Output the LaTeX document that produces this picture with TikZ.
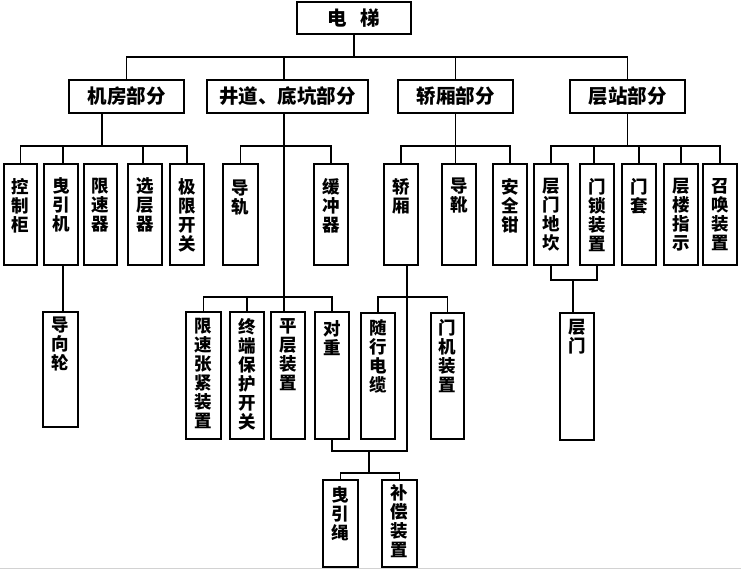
\documentclass[tikz,border=0pt]{standalone}
\usepackage{fontspec}
\setmainfont{Noto Sans CJK SC}
\tikzset{
 bx/.style={draw, line width=2.2pt, inner sep=0pt, fill=white},
 vlab/.style={anchor=north, align=center, inner sep=0pt, font=\bfseries\fontsize{17.5}{19}\selectfont},
 hlab/.style={font=\bfseries\fontsize{19.5}{22}\selectfont},
 conn/.style={line width=1.2pt},
}
\newcommand\mybox[7]{\node[bx, minimum width={(#4-#2)*1pt}, minimum height={(#5-#3)*1pt}, label={[vlab,yshift={-#6pt}]north:{#7}}] (#1) at ({(#2+#4)/2},{(#3+#5)/2}) {};}
\newcommand\myhbox[6]{\node[bx, hlab, minimum width={(#4-#2)*1pt}, minimum height={(#5-#3)*1pt}] (#1) at ({(#2+#4)/2},{(#3+#5)/2}) {#6};}
\begin{document}
\begin{tikzpicture}[x=1pt,y=-1pt]
\useasboundingbox (0,0) rectangle (741,576);
\draw[gray!35, line width=1pt] (0,568) -- (741,568);
% level 1 and 2
\myhbox{root}{297}{2}{411}{34}{电\hspace{14pt}梯}
\myhbox{jf}{69}{80}{184}{113}{机房部分}
\myhbox{jd}{207}{80}{368}{113}{井道、底坑部分}
\myhbox{jx}{398}{80}{513}{113}{轿厢部分}
\myhbox{cz}{570}{80}{685}{113}{层站部分}
% level 3
\mybox{kzg}{4}{164}{37}{265}{15}{控\\制\\柜}
\mybox{yyj}{44}{164}{78}{265}{15}{曳\\引\\机}
\mybox{xsq}{84}{164}{117}{265}{15}{限\\速\\器}
\mybox{xcq}{128}{164}{162}{265}{15}{选\\层\\器}
\mybox{jxkg}{170}{164}{204}{265}{15}{极\\限\\开\\关}
\mybox{dg}{223}{164}{258}{265}{17}{导\\轨}
\mybox{hcq}{314}{164}{348}{265}{15}{缓\\冲\\器}
\mybox{jx2}{384}{164}{418}{265}{15}{轿\\厢}
\mybox{dx}{442}{164}{476}{265}{15}{导\\靴}
\mybox{aqq}{493}{164}{527}{265}{15}{安\\全\\钳}
\mybox{cmdk}{534}{164}{568}{265}{15}{层\\门\\地\\坎}
\mybox{msz}{580}{164}{614}{265}{15}{门\\锁\\装\\置}
\mybox{mt}{622}{164}{656}{265}{15}{门\\套}
\mybox{clzs}{664}{164}{698}{265}{15}{层\\楼\\指\\示}
\mybox{zhzz}{703}{164}{737}{265}{15}{召\\唤\\装\\置}
% level 4
\mybox{dxl}{43}{312}{78}{427}{6}{导\\向\\轮}
\mybox{xsz}{186}{312}{221}{439}{7}{限\\速\\张\\紧\\装\\置}
\mybox{zdb}{230}{312}{264}{439}{7}{终\\端\\保\\护\\开\\关}
\mybox{pc}{271}{312}{305}{439}{7}{平\\层\\装\\置}
\mybox{dz}{315}{312}{349}{439}{9}{对\\重}
\mybox{sx}{361}{313}{395}{439}{7}{随\\行\\电\\缆}
\mybox{mj}{431}{313}{464}{439}{7}{门\\机\\装\\置}
\mybox{cm}{560}{313}{594}{440}{7}{层\\门}
% level 5
\mybox{yys}{323}{480}{358}{567}{7}{曳\\引\\绳}
\mybox{bc}{382}{480}{417}{567}{5}{补\\偿\\装\\置}
% bus levels
\coordinate (yb0) at (0,57);
\coordinate (yb1) at (0,146);
\coordinate (yb2) at (0,297);
\coordinate (yb3) at (0,451);
\coordinate (yb4) at (0,473);
\coordinate (yb5) at (0,280);
\coordinate (j3) at (369,451);
% top
\draw[conn] (root.south) -- (root.south|-yb0);
\draw[conn] (jf.north) |- (cz.north|-yb0) -- (cz.north);
\draw[conn] ([xshift=-3.5pt]jd.north) -- ([xshift=-3.5pt]jd.north|-yb0);
\draw[conn] (jx.north) -- (jx.north|-yb0);
% jifang
\draw[conn] ([xshift=-24.5pt]jf.south) -- ([xshift=-24.5pt]jf.south|-yb1);
\draw[conn] (kzg.north) |- (jxkg.north|-yb1) -- (jxkg.north);
\draw[conn] ([xshift=2pt]yyj.north) -- ([xshift=2pt]yyj.north|-yb1);
\draw[conn] ([xshift=-2pt]xcq.north) -- ([xshift=-2pt]xcq.north|-yb1);
\draw[conn] ([xshift=2pt]yyj.south) -- ([xshift=2pt]yyj.south|-dxl.north);
% jingdao
\draw[conn] ([xshift=-3.5pt]jd.south) -- ([xshift=-3.5pt]jd.south|-pc.north);
\draw[conn] (dg.north) |- (hcq.north|-yb1) -- (hcq.north);
\draw[conn] (xsz.north) |- (dz.north|-yb2) -- (dz.north);
\draw[conn] (zdb.north) -- (zdb.north|-yb2);
% jiaoxiang
\draw[conn] (jx.south) -- (jx.south|-dx.north);
\draw[conn] (jx2.north) |- (aqq.north|-yb1) -- (aqq.north);
\draw[conn] ([xshift=6pt]jx2.south) -- ([xshift=6pt]jx2.south|-yb3) -- (dz.south|-yb3) -- (dz.south);
\draw[conn] (sx.north) |- (mj.north|-yb2) -- (mj.north);
\draw[conn] (j3) -- (j3|-yb4);
\draw[conn] (yys.north) |- (bc.north|-yb4) -- (bc.north);
% cengzhan
\draw[conn] (cz.south) -- (cz.south|-yb1);
\draw[conn] (cmdk.north) |- (zhzz.north|-yb1) -- (zhzz.north);
\draw[conn] ([xshift=-3pt]msz.north) -- ([xshift=-3pt]msz.north|-yb1);
\draw[conn] (mt.north) -- (mt.north|-yb1);
\draw[conn] (clzs.north) -- (clzs.north|-yb1);
\draw[conn] (cmdk.south) |- (msz.south|-yb5) -- (msz.south);
\draw[conn] ([xshift=-4pt]cm.north) -- ([xshift=-4pt]cm.north|-yb5);
\end{tikzpicture}
\end{document}
